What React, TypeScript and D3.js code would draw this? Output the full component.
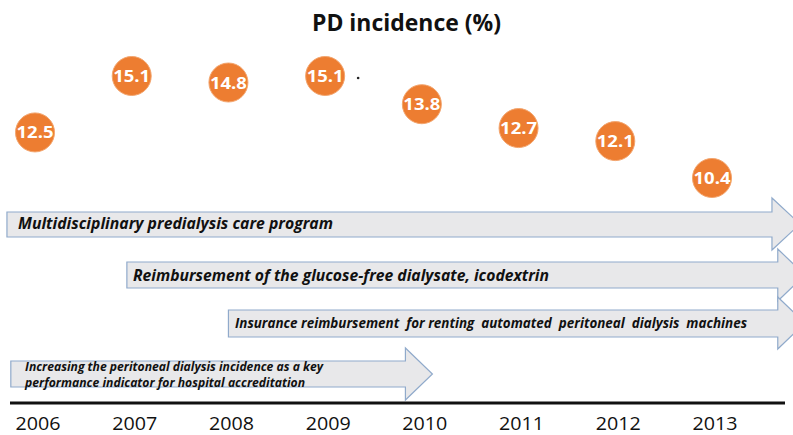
import React from "react";
import * as d3 from "d3";

const years = [2006, 2007, 2008, 2009, 2010, 2011, 2012, 2013];
const incidence = [12.5, 15.1, 14.8, 15.1, 13.8, 12.7, 12.1, 10.4];
const yearLabels = ["2006", "2007", "2008", "2009", "2010", "2011", "2012", "2013"];
const title = "PD incidence (%)";

const programLabels = [
  ["Multidisciplinary predialysis care program"],
  ["Reimbursement of the glucose-free dialysate, icodextrin"],
  ["Insurance reimbursement  for renting  automated  peritoneal  dialysis  machines"],
  ["Increasing the peritoneal dialysis incidence as a key", "performance indicator for hospital accreditation"],
];
const programStart = [2005.71, 2006.95, 2008.0, 2005.75];
const programEnd = [2013.62, 2013.68, 2013.68, 2009.83];

const W = 793;
const H = 435;

export default function App() {
  const x = d3.scaleLinear().domain([2006, 2013]).range([35, 712]);
  const y = d3.scaleLinear().domain([10.4, 15.1]).range([178, 76]);

  const rows = [
    { top: 212, bottom: 237, headTop: 198, headBottom: 250, tipDx: 28, font: 16.5, textX: 18, base: [229], widths: [315] },
    { top: 262, bottom: 288, headTop: 249, headBottom: 301, tipDx: 27, font: 16.5, textX: 133, base: [281], widths: [416] },
    { top: 310, bottom: 337, headTop: 297, headBottom: 349, tipDx: 27, font: 13.5, textX: 235, base: [328], widths: [512] },
    { top: 361, bottom: 387, headTop: 348, headBottom: 400, tipDx: 27, font: 11.8, textX: 25, base: [371, 387], widths: [298, 280] },
  ];

  const arrowPath = (i: number) => {
    const r = rows[i];
    const x0 = x(programStart[i]);
    const x1 = x(programEnd[i]);
    const mid = (r.headTop + r.headBottom) / 2;
    const p = d3.path();
    p.moveTo(x0, r.top);
    p.lineTo(x1, r.top);
    p.lineTo(x1, r.headTop);
    p.lineTo(x1 + r.tipDx, mid);
    p.lineTo(x1, r.headBottom);
    p.lineTo(x1, r.bottom);
    p.lineTo(x0, r.bottom);
    p.closePath();
    return p.toString();
  };

  return (
    <svg width={W} height={H} style={{ position: "absolute", left: 0, top: 0, background: "#fff" }}>
      <rect width={W} height={H} fill="#fff" />
      <text x={W / 2 + 10} y={31} textAnchor="middle" fontFamily="Open Sans" fontWeight={700} fontSize={23} fill="#111" textLength={189} lengthAdjust="spacingAndGlyphs">
        {title}
      </text>

      {programLabels.map((lines, i) => (
        <g key={i}>
          <path d={arrowPath(i)} fill="#e8e8ea" stroke="#90aacb" strokeWidth={1.2} />
          {lines.map((t, j) => (
            <text key={j} x={rows[i].textX} y={rows[i].base[j]} fontFamily="Open Sans" fontStyle="italic" fontWeight={700} fontSize={rows[i].font} fill="#111" textLength={rows[i].widths[j]} lengthAdjust="spacingAndGlyphs" style={{ whiteSpace: "pre" }}>
              {t}
            </text>
          ))}
        </g>
      ))}

      <line x1={10} x2={785} y1={403} y2={403} stroke="#111" strokeWidth={3} />

      {yearLabels.map((t, i) => (
        <text key={t} x={x(years[i]) + 3} y={430} textAnchor="middle" fontFamily="Open Sans" fontSize={18.5} fill="#111" textLength={45} lengthAdjust="spacingAndGlyphs">
          {t}
        </text>
      ))}

      <circle cx={x(2009) + 33} cy={y(15.1) + 2} r={1.3} fill="#222" />

      {incidence.map((v, i) => (
        <g key={i}>
          <circle cx={x(years[i])} cy={y(v)} r={19.5} fill="#ed7d31" stroke="#f3a56e" strokeWidth={1} />
          <text x={x(years[i])} y={y(v) + 6} textAnchor="middle" fontFamily="Open Sans" fontWeight={700} fontSize={16.5} fill="#fff" textLength={37} lengthAdjust="spacingAndGlyphs">
            {v.toFixed(1)}
          </text>
        </g>
      ))}
    </svg>
  );
}
